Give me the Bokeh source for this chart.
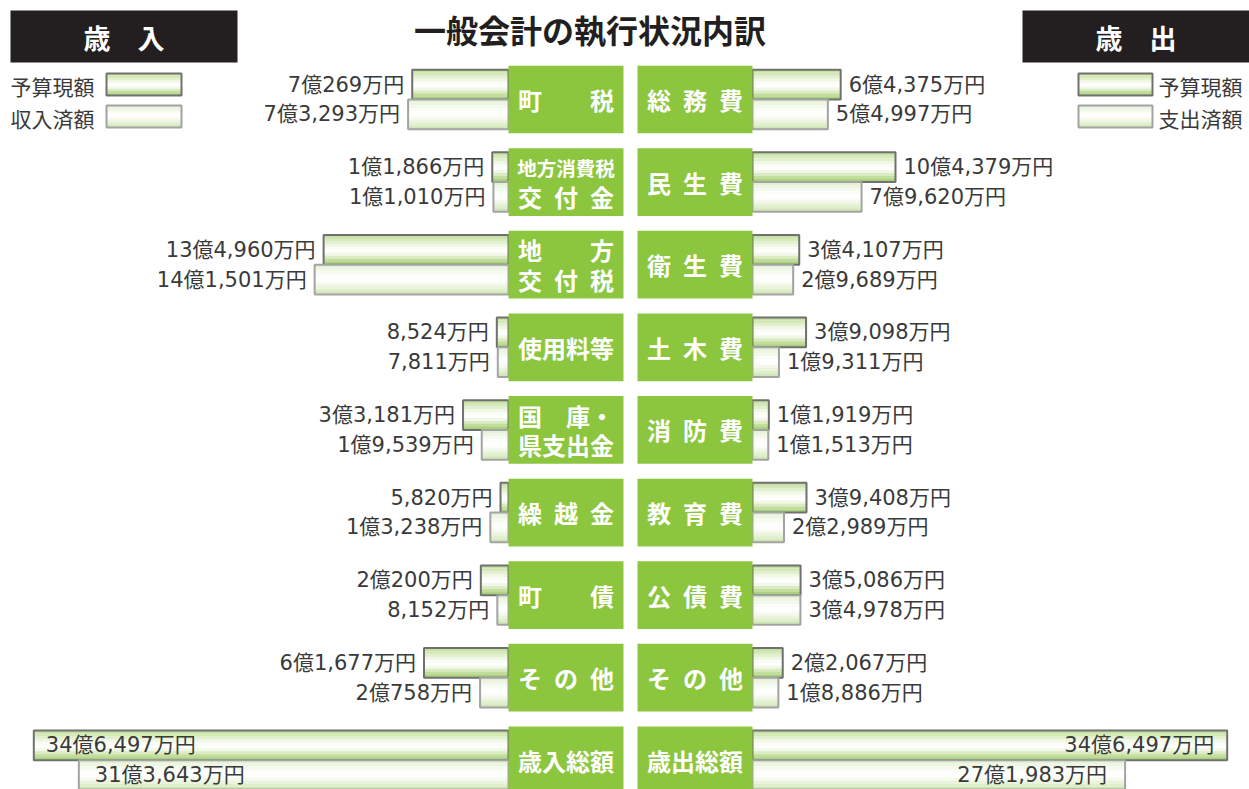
from bokeh.plotting import figure
from bokeh.models import ColumnDataSource, Range1d, CDSView, IndexFilter
from bokeh.transform import dodge
from bokeh.core.properties import value
from bokeh.embed import file_html
from bokeh.resources import INLINE

# ---------------- data (万円) ----------------
rev_cats = ["町\u3000\u3000税", "地方消費税\n交\u2002付\u2002金", "地\u3000\u3000方\n交\u2002付\u2002税",
            "使用料等", "国\u3000庫・\n県支出金", "繰\u2002越\u2002金", "町\u3000\u3000債",
            "そ\u2002の\u2002他", "歳入総額"]
rev_budget = [70269, 11866, 134960, 8524, 33181, 5820, 20200, 61677, 346497]
rev_actual = [73293, 11010, 141501, 7811, 19539, 13238, 8152, 20758, 313643]

exp_cats = ["総\u2002務\u2002費", "民\u2002生\u2002費", "衛\u2002生\u2002費", "土\u2002木\u2002費",
            "消\u2002防\u2002費", "教\u2002育\u2002費", "公\u2002債\u2002費", "そ\u2002の\u2002他", "歳出総額"]
exp_budget = [64375, 104379, 34107, 39098, 11919, 39408, 35086, 22067, 346497]
exp_actual = [54997, 79620, 29689, 19311, 11513, 22989, 34978, 18886, 271983]

title = "一般会計の執行状況内訳"
rev_header = "歳\u3000入"
exp_header = "歳\u3000出"
rev_legend = ["予算現額", "収入済額"]
exp_legend = ["予算現額", "支出済額"]


def fmt(v):
    oku, man = divmod(v, 10000)
    if oku and man:
        return f"{oku}億{man:,}万円"
    if oku:
        return f"{oku}億円"
    return f"{man:,}万円"


rows = list(range(len(rev_cats)))

# ---------------- figure ----------------
W, H = 1249, 789
K = 0.00137  # px per 万円
LZ, RZ = 508, 752  # pixel positions of zero lines

p = figure(width=W, height=H, x_range=Range1d(0, W), y_range=Range1d(8.353, -1.1985),
           output_backend="svg", toolbar_location=None,
           x_axis_location=None, y_axis_location=None, min_border=0)
p.outline_line_color = None
p.xgrid.grid_line_color = None
p.ygrid.grid_line_color = None
p.background_fill_color = "white"
p.border_fill_color = "white"
p.extra_x_ranges = {"left": Range1d(LZ / K, -(W - LZ) / K),
                    "right": Range1d(-RZ / K, (W - RZ) / K)}
p.extra_y_ranges = {"px": Range1d(H, 0)}

FONT = value("Noto Sans CJK JP")
NUMFONT = value("'DejaVu Sans', 'Noto Sans CJK JP'")
NUMSIZE = "21px"
TXT = "#3a3a3a"

budget_grad = ["#c6e0a2", "#d4e8b8", "#e3f0d0", "#f0f7e5", "#fafdf5", "#ffffff",
               "#f1f8e8", "#dbebc3", "#c3dd9d", "#aad17d"]
actual_grad = ["#e4f1d4", "#edf6e2", "#f5faee", "#fbfdf8", "#ffffff", "#fcfefa",
               "#f4f9ec", "#eaf4dc", "#dfeecb", "#d2e7b7"]

BH = 0.36   # bar thickness in row units
OFF = 0.18  # offset of each bar from row centre
N = len(budget_grad)

src_rev = ColumnDataSource(dict(row=rows, budget=rev_budget, actual=rev_actual,
                                lb=[fmt(v) for v in rev_budget], la=[fmt(v) for v in rev_actual]))
src_exp = ColumnDataSource(dict(row=rows, budget=exp_budget, actual=exp_actual,
                                lb=[fmt(v) for v in exp_budget], la=[fmt(v) for v in exp_actual]))


def draw_bars(src, rng, field, sign, grad, line_color):
    for j, c in enumerate(grad):
        off = sign * OFF - BH / 2 + (j + 0.5) * BH / N
        p.hbar(y=dodge("row", off), left=0, right=field, height=BH / N * 1.08,
               x_range_name=rng, source=src, fill_color=c, line_color=None)
    p.hbar(y=dodge("row", sign * OFF), left=0, right=field, height=BH,
           x_range_name=rng, source=src, fill_color=None, line_color=line_color, line_width=2)


for src, rng in ((src_rev, "left"), (src_exp, "right")):
    draw_bars(src, rng, "budget", -1, budget_grad, "#707070")
    draw_bars(src, rng, "actual", 1, actual_grad, "#a3a3a3")

main_view = CDSView(filter=IndexFilter(list(range(8))))
tot_view = CDSView(filter=IndexFilter([8]))

for src, rng, align, xo in ((src_rev, "left", "right", -8), (src_exp, "right", "left", 8)):
    for field, lab, sign in (("budget", "lb", -1), ("actual", "la", 1)):
        p.text(x=field, y=dodge("row", sign * OFF), text=lab, source=src, view=main_view,
               x_range_name=rng, text_align=align, text_baseline="middle", x_offset=xo,
               text_font=NUMFONT, text_font_size=NUMSIZE, text_color=TXT)

# totals: text inside bars
p.text(x="budget", y=dodge("row", -OFF), text="lb", source=src_rev, view=tot_view, x_range_name="left",
       text_align="left", text_baseline="middle", x_offset=12, text_font=NUMFONT, text_font_size=NUMSIZE, text_color=TXT)
p.text(x="actual", y=dodge("row", OFF), text="la", source=src_rev, view=tot_view, x_range_name="left",
       text_align="left", text_baseline="middle", x_offset=16, text_font=NUMFONT, text_font_size=NUMSIZE, text_color=TXT)
p.text(x="budget", y=dodge("row", -OFF), text="lb", source=src_exp, view=tot_view, x_range_name="right",
       text_align="right", text_baseline="middle", x_offset=-13, text_font=NUMFONT, text_font_size=NUMSIZE, text_color=TXT)
p.text(x="actual", y=dodge("row", OFF), text="la", source=src_exp, view=tot_view, x_range_name="right",
       text_align="right", text_baseline="middle", x_offset=-18, text_font=NUMFONT, text_font_size=NUMSIZE, text_color=TXT)

# ---------------- category boxes ----------------
GREEN = "#8cc63f"
for cats, xc in ((rev_cats, 565.5), (exp_cats, 694.5)):
    p.rect(x=xc, y=rows, width=115, height=0.82, fill_color=GREEN, line_color=None)
    single_y, single_t, l1_y, l1_t, l1_s, l2_y, l2_t = [], [], [], [], [], [], []
    for r, c in zip(rows, cats):
        parts = c.split("\n")
        if len(parts) == 1:
            single_y.append(r); single_t.append(c)
        else:
            l1_y.append(r - 0.18); l1_t.append(parts[0])
            l1_s.append("19.5px" if len(parts[0]) >= 5 else "24px")
            l2_y.append(r + 0.18); l2_t.append(parts[1])
    p.text(x=xc, y=single_y, text=single_t, text_align="center", text_baseline="middle",
           text_font=FONT, text_font_size="24px", text_font_style="bold", text_color="white")
    p.text(x=[xc] * len(l1_y), y=l1_y, text=l1_t, text_align="center", text_baseline="middle",
           text_font=FONT, text_font_size=l1_s, text_font_style="bold", text_color="white")
    p.text(x=xc, y=l2_y, text=l2_t, text_align="center", text_baseline="middle",
           text_font=FONT, text_font_size="24px", text_font_style="bold", text_color="white")

# ---------------- title & headers ----------------
p.text(x=589.5, y=28, text=[title], y_range_name="px", text_align="center", text_baseline="middle",
       text_font=FONT, text_font_size="32px", text_font_style="bold", text_color="#231f20")
for xc, t in ((123.5, rev_header), (1135.5, exp_header)):
    p.rect(x=xc, y=36, width=227, height=52, y_range_name="px", fill_color="#231f20", line_color=None)
    p.text(x=xc, y=37, text=[t], y_range_name="px", text_align="center", text_baseline="middle",
           text_font=FONT, text_font_size="27px", text_font_style="bold", text_color="white")

# ---------------- legends ----------------
def swatch(x0, x1, yc, grad, lc):
    h = 22
    for j, c in enumerate(grad):
        y = yc - h / 2 + (j + 0.5) * h / N
        p.hbar(y=y, left=x0, right=x1, height=h / N * 1.1, y_range_name="px", fill_color=c, line_color=None)
    p.hbar(y=yc, left=x0, right=x1, height=h, y_range_name="px", fill_color=None, line_color=lc, line_width=2)


for (labs, sx0, sx1, tx, align) in ((rev_legend, 106, 181, 10, "left"), (exp_legend, 1078, 1152, 1158, "left")):
    for lab, yc, grad, lc in ((labs[0], 84, budget_grad, "#707070"), (labs[1], 116, actual_grad, "#a3a3a3")):
        swatch(sx0, sx1, yc, grad, lc)
        p.text(x=tx, y=yc + 1, text=[lab], y_range_name="px", text_align=align, text_baseline="middle",
               text_font=FONT, text_font_size="21px", text_color=TXT)

open("out.html", "w").write(file_html(p, INLINE))
